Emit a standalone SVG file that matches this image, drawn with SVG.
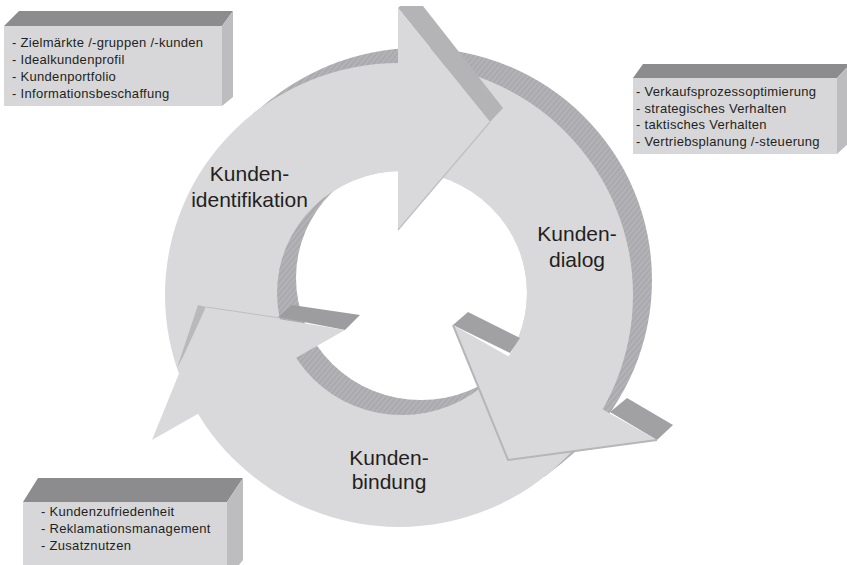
<svg xmlns="http://www.w3.org/2000/svg" width="847" height="565" viewBox="0 0 847 565">
<style>
.face{fill:#d9d9db}
.lbl{font-family:"Liberation Sans",Arial,sans-serif;font-size:21px;fill:#231f20;text-anchor:middle}
.box{font-family:"Liberation Sans",Arial,sans-serif;font-size:13px;letter-spacing:0.3px;fill:#231f20}
.btop{fill:#8c8c8f}
.bside{fill:#bdbdc0}
.bfront{fill:#d7d7d9}
.depth{fill:#a1a1a4}
</style>
<defs>
<pattern id="hatch" patternUnits="userSpaceOnUse" width="4" height="4" patternTransform="rotate(40)">
<rect width="4" height="4" fill="#aaaaae"/>
<line x1="1" y1="0" x2="1" y2="4" stroke="#c4c4c8" stroke-width="0.7"/>
</pattern>
<clipPath id="holeFront"><ellipse cx="402" cy="293" rx="125" ry="122"/></clipPath>
</defs>
<rect width="847" height="565" fill="#ffffff"/>

<g id="ring">
<ellipse cx="418" cy="280" rx="234" ry="232" fill="url(#hatch)"/>
<polygon points="253.3,113.5 272.3,98.5 563.7,461.5 544.7,476.5" fill="url(#hatch)"/>
<path class="face" fill-rule="evenodd" d="M165,295 a234,232 0 1,0 468,0 a234,232 0 1,0 -468,0 Z M277,293 a125,122 0 1,0 250,0 a125,122 0 1,0 -250,0 Z"/>
<ellipse cx="421" cy="278" rx="125" ry="122" fill="#ffffff" clip-path="url(#holeFront)"/>
</g>

<g id="arrow-kundenidentifikation">
<polygon points="398,8 400,6 423,6 503,108 490,122" fill="#b4b4b7"/>
<polygon class="face" points="398,8 490,122 398,230"/>
<line x1="490" y1="122" x2="398" y2="230" stroke="#bfbfc2" stroke-width="1.2"/>
<text class="lbl" x="249.5" y="181">Kunden-</text>
<text class="lbl" x="249.5" y="207">identifikation</text>
</g>

<g id="arrow-kundendialog">
<polygon class="depth" points="453,325 468,312 520,338 510,353"/>
<polygon class="depth" points="610,412 627,398 673,425 657,440"/>
<polygon class="face" points="453,325 508,460 657,440"/>
<polyline points="453,325 508,460 657,440" fill="none" stroke="#b6b6b9" stroke-width="2"/>
<text class="lbl" x="577" y="241">Kunden-</text>
<text class="lbl" x="577" y="267">dialog</text>
</g>

<g id="arrow-kundenbindung">
<polygon points="278,317 292,305 360,315 345,330" fill="#9d9da0"/>
<polygon points="198,305 206,307 183,357 177,368" fill="#b9b9bc"/>
<polygon class="face" points="206,307 345,330 152,440"/>
<line x1="206" y1="307" x2="280" y2="318" stroke="#b8b8bb" stroke-width="0.8"/>
<text class="lbl" x="389" y="465">Kunden-</text>
<text class="lbl" x="389" y="489">bindung</text>
</g>

<g id="box-identifikation">
<polygon class="btop" points="4,26 19,11 233,11 222,26"/>
<polygon class="bside" points="222,26 233,11 233,97 222,106"/>
<rect class="bfront" x="4" y="26" width="218" height="80"/>
<text class="box" x="12" y="47">- Zielmärkte /-gruppen /-kunden</text>
<text class="box" x="12" y="64">- Idealkundenprofil</text>
<text class="box" x="12" y="81">- Kundenportfolio</text>
<text class="box" x="12" y="98">- Informationsbeschaffung</text>
</g>

<g id="box-dialog">
<polygon class="btop" points="633,78 643,64 850,64 837,78"/>
<polygon class="bside" points="837,78 850,64 850,142 837,154"/>
<rect class="bfront" x="633" y="78" width="204" height="76"/>
<text class="box" x="636" y="96">- Verkaufsprozessoptimierung</text>
<text class="box" x="636" y="113">- strategisches Verhalten</text>
<text class="box" x="636" y="129">- taktisches Verhalten</text>
<text class="box" x="636" y="146">- Vertriebsplanung /-steuerung</text>
</g>

<g id="box-bindung">
<polygon class="btop" points="23,502 38,478 243,478 227,502"/>
<polygon class="bside" points="227,502 243,478 243,560 227,580"/>
<rect class="bfront" x="23" y="502" width="204" height="70"/>
<text class="box" x="41" y="516">- Kundenzufriedenheit</text>
<text class="box" x="41" y="533">- Reklamationsmanagement</text>
<text class="box" x="41" y="550">- Zusatznutzen</text>
</g>

<g id="connectors"></g>
</svg>
